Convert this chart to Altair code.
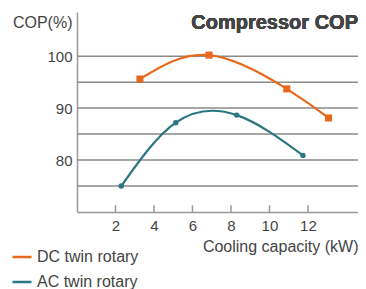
import altair as alt
import pandas as pd

dc_x = [3.27, 6.86, 10.9, 13.07]
dc_y = [95.6, 100.2, 93.7, 88.1]
ac_x = [2.3, 5.13, 8.3, 11.74]
ac_y = [75.0, 87.2, 88.65, 80.9]
series = ["DC twin rotary", "AC twin rotary"]
colors = ["#E8691E", "#2A7682"]
x_ticks = [2, 4, 6, 8, 10, 12]
y_labels = [80, 90, 100]
y_grid = [75, 80, 85, 90, 95, 100]

rows = []
for x, y in zip(dc_x, dc_y):
    rows.append({"x": x, "y": y, "s": series[0]})
for x, y in zip(ac_x, ac_y):
    rows.append({"x": x, "y": y, "s": series[1]})
df = pd.DataFrame(rows)
ticks_df = pd.DataFrame({"t": x_ticks})
grid_df = pd.DataFrame({"g": y_grid})

FONT = "Liberation Sans"
TXT = "#444444"
W = 281

xs = alt.Scale(domain=[0, 14.6], nice=False, zero=False)
ys = alt.Scale(domain=[70, 108.5], nice=False, zero=False)
cs = alt.Scale(domain=series, range=colors)

x_axis = alt.Axis(values=x_ticks, grid=False, ticks=False, domainColor="#999999",
                  domainWidth=1.5, labelFont=FONT, labelFontSize=15, labelColor=TXT,
                  labelPadding=6, title="Cooling capacity (kW)", titleFont=FONT,
                  titleFontSize=16, titleFontWeight="normal", titleColor=TXT,
                  titleX=W, titleY=39, titleAlign="right", titleBaseline="alphabetic")
y_axis = alt.Axis(values=y_labels, grid=False, ticks=False, domainColor="#999999",
                  domainWidth=1.5, labelFont=FONT, labelFontSize=15, labelColor=TXT,
                  labelPadding=5, title="COP(%)", titleFont=FONT, titleFontSize=16,
                  titleFontWeight="normal", titleColor=TXT, titleAngle=0,
                  titleX=-5, titleY=15, titleAlign="right", titleBaseline="alphabetic")

X = alt.X("x:Q", scale=xs, axis=x_axis)
Y = alt.Y("y:Q", scale=ys, axis=y_axis)

grid = alt.Chart(grid_df).mark_rule(color="#8a8a8a", strokeWidth=1.5).encode(
    y=alt.Y("g:Q", scale=ys, axis=y_axis),
    x=alt.value(0), x2=alt.value(W),
)
tick_marks = alt.Chart(ticks_df).mark_rule(color="#999999", strokeWidth=1.5).encode(
    x=alt.X("t:Q", scale=xs, axis=x_axis),
    y=alt.value(200), y2=alt.value(193.3),
)
lines = alt.Chart(df).mark_line(interpolate="natural", strokeWidth=2.2).encode(
    x=X, y=Y,
    color=alt.Color("s:N", scale=cs, sort=series,
                    legend=alt.Legend(title=None, orient="none", legendX=-66, legendY=234,
                                      symbolType="stroke", symbolSize=361,
                                      symbolStrokeWidth=2.5, labelFont=FONT,
                                      labelFontSize=16, labelColor=TXT, labelOffset=4,
                                      rowPadding=6)),
)
dc_points = alt.Chart(df[df.s == series[0]]).mark_point(
    filled=True, opacity=1, shape="square", size=50, color=colors[0]).encode(x=X, y=Y)
ac_points = alt.Chart(df[df.s == series[1]]).mark_point(
    filled=True, opacity=1, shape="circle", size=30, color=colors[1]).encode(x=X, y=Y)

title = alt.Chart(ticks_df).mark_text(text="Compressor COP", font=FONT, fontSize=20,
                                      fontWeight="bold", color=TXT, align="right",
                                      baseline="alphabetic").encode(
    x=alt.value(W), y=alt.value(16.5))

chart = alt.layer(grid, tick_marks, lines, dc_points, ac_points, title).properties(
    width=W, height=200,
    autosize=alt.AutoSizeParams(type="none"),
    padding={"left": 69, "top": 4, "right": 0, "bottom": 77},
).configure_view(stroke=None)

chart.save("out.html", embed_options={"renderer": "svg", "actions": False})
